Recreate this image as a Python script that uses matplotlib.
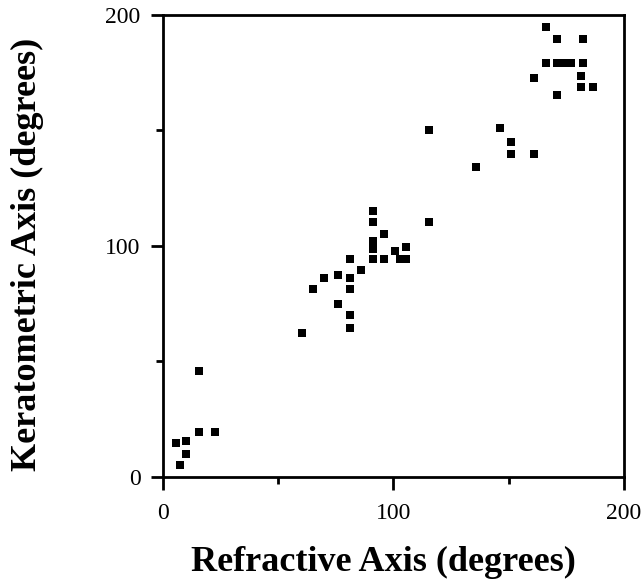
import matplotlib.pyplot as plt
from matplotlib.ticker import MultipleLocator

# refractive axis (x) vs keratometric axis (y), degrees
refractive = [166, 171, 182, 166, 171, 174, 177, 182, 161, 181.5, 181.5, 186.5, 171,
              115.5, 146, 151, 151, 161, 136,
              91, 91, 115.5, 96, 91, 91, 100.5, 105.5,
              81, 91, 96, 103, 105.5, 86, 70, 76, 81, 65, 81,
              76, 81, 81, 60.5,
              15.5, 15.5, 22.5, 5.5, 10, 10, 7.5]
keratometric = [195, 189.5, 189.5, 179, 179, 179, 179, 179, 172.5, 173.5, 169, 169, 165.5,
                150, 151, 145, 140, 140, 134,
                115, 110.5, 110.5, 105, 102, 98.5, 98, 99.5,
                94.5, 94.5, 94.5, 94.5, 94.5, 89.5, 86, 87.5, 86, 81.5, 81.5,
                75, 70, 64.5, 62.5,
                46, 19.5, 19.5, 14.5, 15.5, 10, 5]

plt.rcParams['font.family'] = ['Liberation Serif', 'DejaVu Serif']

fig = plt.figure(figsize=(6.44, 5.8), dpi=100)
ax = fig.add_axes([0.253, 0.1776, 0.716, 0.7966])

ax.scatter(refractive, keratometric, marker='s', s=30, color='black', linewidths=0)

ax.set_xlim(0, 200)
ax.set_ylim(0, 200)
ax.xaxis.set_major_locator(MultipleLocator(100))
ax.xaxis.set_minor_locator(MultipleLocator(50))
ax.yaxis.set_major_locator(MultipleLocator(100))
ax.yaxis.set_minor_locator(MultipleLocator(50))
ax.tick_params(which='major', direction='out', length=9, width=2, labelsize=17)
ax.tick_params(which='minor', direction='out', length=5, width=2)
ax.tick_params(axis='x', which='major', pad=10)
ax.tick_params(axis='y', which='major', pad=7)
for s in ax.spines.values():
    s.set_linewidth(2)

fig.text(0.595, 0.0155, 'Refractive Axis (degrees)', fontsize=26, fontweight='bold',
         ha='center', va='baseline')
fig.text(0.042, 0.562, 'Keratometric Axis (degrees)', fontsize=26, fontweight='bold',
         ha='center', va='center', rotation=90)

fig.savefig('out.png', dpi=100)
